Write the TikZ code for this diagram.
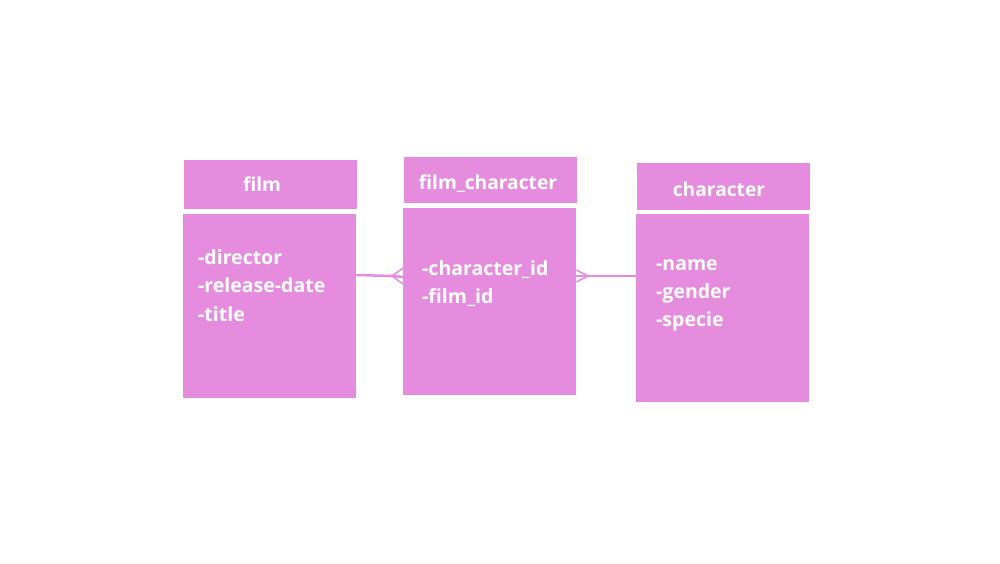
\documentclass[tikz,border=0pt]{standalone}
\usepackage{fontspec}
\setmainfont{Open Sans}
\definecolor{boxpink}{HTML}{E58CDF}
\begin{document}
\begin{tikzpicture}[x=1pt,y=-1pt,
  box/.style={fill=boxpink,draw=none,inner sep=0pt,anchor=north west},
  title/.style={text=white,font=\bfseries\fontsize{19.2}{22}\selectfont,inner sep=0pt,anchor=base},
  attr/.style={text=white,font=\bfseries\fontsize{19.5}{22}\selectfont,inner sep=0pt,anchor=base west},
  link/.style={draw=boxpink,line width=2.5pt}]
\useasboundingbox[fill=white] (0,0) rectangle (1000,563);
% film
\node[box,minimum width=173pt,minimum height=49pt] (filmh) at (184,160) {};
\node[box,minimum width=173pt,minimum height=184pt] (filmb) at (183,214) {};
\node[title] (filmt) at (262,191) {film};
\node[attr] (filma1) at (198,264) {-director};
\node[attr] (filma2) at (198,292.5) {-release-date};
\node[attr] (filma3) at (198,321) {-title};
% film_character
\node[box,minimum width=173pt,minimum height=46pt] (fch) at (404,157) {};
\node[box,minimum width=173pt,minimum height=187pt] (fcb) at (403,208) {};
\node[title] (fct) at (488,189) {film\_character};
\node[attr] (fca1) at (422,275) {-character\_id};
\node[attr] (fca2) at (422,303) {-film\_id};
% character
\node[box,minimum width=173pt,minimum height=47pt] (chh) at (637,163) {};
\node[box,minimum width=173pt,minimum height=188pt] (chb) at (636,214) {};
\node[title] (cht) at (719,196) {character};
\node[attr] (cha1) at (656,270.5) {-name};
\node[attr] (cha2) at (656,298.5) {-gender};
\node[attr] (cha3) at (656,326.5) {-specie};
% connectors
\coordinate (c1) at (392,276);
\coordinate (c2) at (588,276);
\draw[link] (filmb.east |- 0,275) -- (c1) -- (fcb.west |- 0,277);
\draw[link,line width=1.5pt] (c1) -- (fcb.west |- 0,268);
\draw[link,line width=1.5pt] (c1) -- (fcb.west |- 0,284);
\draw[link] (fcb.east |- 0,276) -- (c2) -- (chb.west |- 0,276);
\draw[link,line width=1.5pt] (c2) -- (fcb.east |- 0,270);
\draw[link,line width=1.5pt] (c2) -- (fcb.east |- 0,282);
\end{tikzpicture}
\end{document}
